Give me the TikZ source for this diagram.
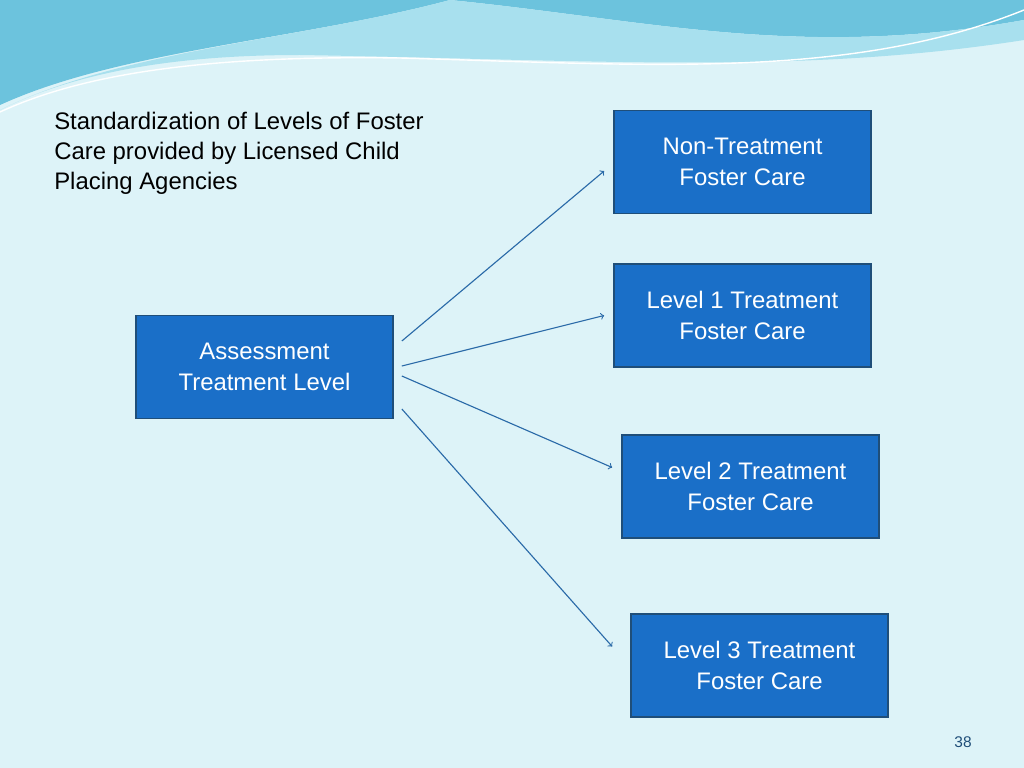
\documentclass[tikz,border=0pt]{standalone}
\usepackage{fontspec}
\setmainfont{Liberation Sans}
\usetikzlibrary{calc}
\definecolor{bgcyan}{HTML}{DDF3F8}
\definecolor{boxblue}{HTML}{1A6FC8}
\definecolor{boxline}{HTML}{1F4E79}
\definecolor{arrowblue}{HTML}{2A6AA8}
\definecolor{wavedark}{HTML}{6CC3DD}
\definecolor{wavelight}{HTML}{A8E0EE}
\tikzset{
  levelbox/.style={draw=boxline, line width=1.2pt, fill=boxblue, text=white,
    minimum width=257*0.025cm, minimum height=103*0.025cm, align=center,
    font=\fontsize{17}{22}\selectfont},
  link/.style={arrowblue, line width=0.8pt, -to}
}
\begin{document}
\begin{tikzpicture}[x=0.025cm, y=-0.025cm]
  %Background
  \fill[bgcyan] (0,0) rectangle (1024,768);
  \useasboundingbox (0,0) rectangle (1024,768);
  %Top waves
  \fill[wavedark] (0,0) -- (1024,0) -- (1024,20) .. controls (800,60) and (650,20) .. (450,0)
    -- cycle;
  \fill[wavedark] (0,0) -- (450,0) .. controls (300,40) and (120,50) .. (0,105) -- cycle;
  \fill[wavelight] (450,0) .. controls (650,20) and (800,60) .. (1024,20) -- (1024,40)
    .. controls (800,75) and (600,60) .. (300,55) .. controls (150,55) and (60,80) .. (0,110)
    .. controls (120,50) and (300,40) .. (450,0) -- cycle;
  \draw[white, line width=1pt] (0,112) .. controls (80,75) and (200,55) .. (400,58)
    .. controls (650,65) and (850,80) .. (1024,10);
  %Title
  \node[anchor=north west, align=left, font=\fontsize{17}{21.3}\selectfont, inner sep=0pt]
    (title) at (54,112) {Standardization of Levels of Foster\\Care provided by Licensed Child\\Placing Agencies};
  %Boxes
  \node[levelbox] (asmt) at (264.5,367) {Assessment\\Treatment Level};
  \node[levelbox] (nt) at (742.5,162) {Non-Treatment\\Foster Care};
  \node[levelbox] (l1) at (742.5,315.5) {Level 1 Treatment\\Foster Care};
  \node[levelbox] (l2) at (750.5,486.5) {Level 2 Treatment\\Foster Care};
  \node[levelbox] (l3) at (759.5,665.5) {Level 3 Treatment\\Foster Care};
  %Arrows
  \draw[link] ($(asmt.east)+(8,-26)$) -- ($(nt.west)+(-9,9)$);
  \draw[link] ($(asmt.east)+(8,-1)$) -- ($(l1.west)+(-9,0)$);
  \draw[link] ($(asmt.east)+(8,9)$) -- ($(l2.west)+(-9,-19)$);
  \draw[link] ($(asmt.east)+(8,42)$) -- ($(l3.west)+(-18,-19)$);
  %Page number
  \node[text=boxline, font=\fontsize{11}{13}\selectfont] (page) at (963,742) {38};
\end{tikzpicture}
\end{document}
